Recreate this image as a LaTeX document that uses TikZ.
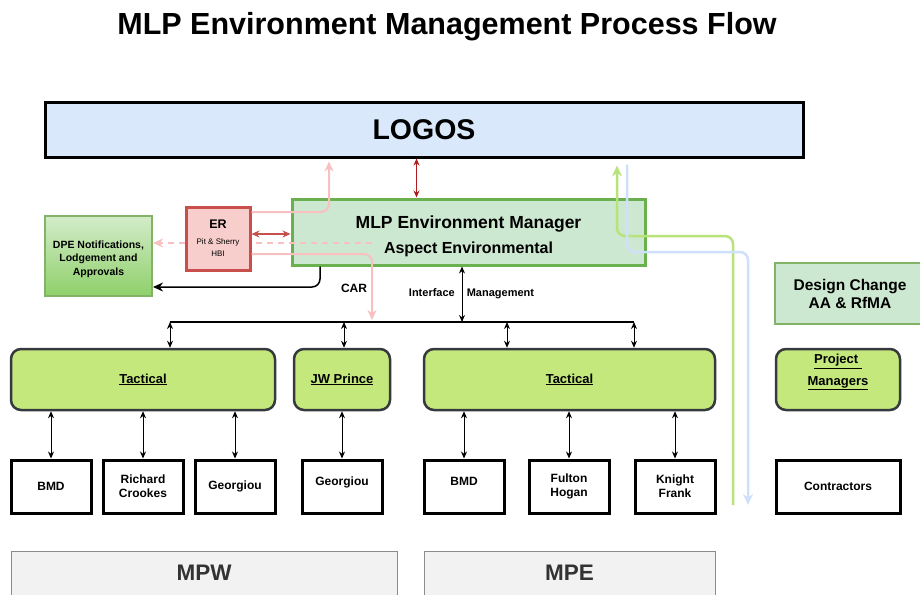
\documentclass[tikz,border=0pt]{standalone}
\usepackage{fontspec}
\usepackage{graphicx}
\setmainfont{Liberation Sans}
\usetikzlibrary{arrows.meta,calc}
\definecolor{logosblue}{HTML}{DAE8FC}
\definecolor{envfill}{HTML}{CDE8D0}
\definecolor{envgreen}{HTML}{6AB04E}
\definecolor{erfill}{HTML}{F8CECC}
\definecolor{erred}{HTML}{C94F4C}
\definecolor{tactfill}{HTML}{C5E87C}
\definecolor{tactborder}{HTML}{36393D}
\definecolor{dpetop}{HTML}{D3ECC9}
\definecolor{dpebot}{HTML}{8FD06A}
\definecolor{dpeborder}{HTML}{82B366}
\definecolor{pinkline}{HTML}{F8C0C0}
\definecolor{darkred}{HTML}{B01C1C}
\definecolor{limeline}{HTML}{B8E27A}
\definecolor{blueline}{HTML}{CFE0FA}
\definecolor{orgfill}{HTML}{F2F2F2}
\definecolor{orgborder}{HTML}{8C8C8C}
\definecolor{orgtext}{HTML}{333333}
\begin{document}
\begin{tikzpicture}[x=1pt,y=-1pt,
  logosbox/.style={draw=black, line width=3pt, fill=logosblue, inner sep=0pt},
  envbox/.style={draw=envgreen, line width=3pt, fill=envfill, inner sep=0pt, align=center},
  erbox/.style={draw=erred, line width=3pt, fill=erfill, inner sep=0pt, align=center},
  dpebox/.style={draw=dpeborder, line width=2pt, top color=dpetop, bottom color=dpebot, inner sep=0pt, align=center, font=\fontsize{10.5}{13}\selectfont\bfseries},
  dcbox/.style={draw=dpeborder, line width=2pt, fill=envfill, inner sep=0pt, align=center, font=\fontsize{15.5}{18}\selectfont\bfseries},
  tactbox/.style={draw=tactborder, line width=2.5pt, fill=tactfill, rounded corners=10pt, minimum height=61pt, inner sep=0pt, align=center, font=\fontsize{13}{20}\selectfont\bfseries},
  leafbox/.style={draw=black, line width=3pt, fill=white, minimum width=80pt, minimum height=53pt, inner sep=0pt, align=center, font=\fontsize{12}{14}\selectfont\bfseries},
  orgbox/.style={draw=orgborder, line width=0.8pt, fill=orgfill, minimum height=44pt, inner sep=0pt, text=orgtext, font=\fontsize{22.5}{25}\selectfont\bfseries},
  dbl/.style={{Stealth[length=7pt,width=6pt]}-{Stealth[length=7pt,width=6pt]}, line width=1pt},
  pinkarrow/.style={draw=pinkline, line width=2pt, -{Stealth[length=10pt,width=9pt]}},
]
\useasboundingbox (0,0) rectangle (920,594);

% title
\node (title) at (447,27) {\fontsize{30.5}{34}\selectfont\bfseries MLP Environment Management Process Flow};

% main boxes
\node[logosbox, minimum width=758pt, minimum height=55pt] (logos) at (424,129.5) {\fontsize{28.5}{32}\selectfont\bfseries LOGOS};
\node[envbox, minimum width=353pt, minimum height=66pt] (mlp) at (468.5,232)
  {\raisebox{0pt}[\dimexpr\height+8pt\relax]{\shortstack{\fontsize{17.5}{20}\selectfont\bfseries MLP Environment Manager\\[7pt]\fontsize{16}{18}\selectfont\bfseries Aspect Environmental}}};
\node[dpebox, minimum width=107pt, minimum height=80pt] (dpe) at (98.5,256)
  {\raisebox{0pt}[\dimexpr\height+6pt\relax]{\shortstack{DPE Notifications,\\[1pt]Lodgement and\\[1pt]Approvals}}};
\node[dcbox, minimum width=150pt, minimum height=61pt] (dc) at (850,293.5)
  {Design Change\\AA \& RfMA};

% tactical level
\node[tactbox, minimum width=264pt] (tacL) at (143,379.5) {\underline{Tactical}};
\node[tactbox, minimum width=96pt] (jw) at (342,379.5) {\underline{JW Prince}};
\node[tactbox, minimum width=291pt] (tacR) at (569.5,379.5) {\underline{Tactical}};
\node[tactbox, minimum width=124pt] (pm) at (838,379.5)
  {\raisebox{19pt}{\shortstack{\underline{Project\ }\\[5pt]\underline{Managers}}}};

% leaf level
\node[leafbox] (bmdA) at (51,486.5) {BMD};
\node[leafbox] (rc) at (143,486.5) {Richard\\Crookes};
\node[leafbox] (geoA) at (235,486.5) {Georgiou};
\node[leafbox] (geoB) at (342,486.5) {\raisebox{11pt}{Georgiou}};
\node[leafbox] (bmdB) at (464,486.5) {\raisebox{11pt}{BMD}};
\node[leafbox] (fh) at (569,486.5) {Fulton\\Hogan};
\node[leafbox] (kf) at (675,486.5) {Knight\\Frank};
\node[leafbox, minimum width=124pt] (con) at (838,486.5) {Contractors};

% organisations
\node[orgbox, minimum width=386pt] (mpw) at (204,573) {MPW};
\node[orgbox, minimum width=291pt] (mpe) at (569.5,573) {MPE};

% helper coordinates
\coordinate (busL) at (170,322);
\coordinate (busM) at (507,322);
\coordinate (busR) at (634,322);
\coordinate (dashstart) at (372,243);
\coordinate (g1) at (617,236);
\coordinate (gEnd) at (733,505);
\coordinate (b1) at (627,252);
\coordinate (bEnd) at (748,505);

% LOGOS <-> MLP
\draw[darkred, line width=1.2pt, {Stealth[length=7pt,width=6pt]}-{Stealth[length=7pt,width=6pt]}]
  ([xshift=-7.5pt]logos.south) -- ([xshift=-7.5pt]logos.south |- mlp.north);

% pink dashed to DPE (behind ER)
\draw[pinkline, line width=2pt, dash pattern=on 6pt off 5pt, -{Stealth[length=10pt,width=9pt]}]
  (dashstart) -- (dashstart -| dpe.east);

% ER box
\node[erbox, minimum width=64pt, minimum height=63pt] (er) at (218,238.5)
  {\fontsize{12.5}{14}\selectfont\bfseries ER\\[4pt]\fontsize{8}{9.5}\selectfont Pit \& Sherry\\\fontsize{8}{9.5}\selectfont HBI};

% ER <-> MLP
\draw[erred, line width=1.5pt, {Stealth[length=8pt,width=7pt]}-{Stealth[length=8pt,width=7pt]}]
  ([yshift=4.5pt]er.east) -- ([yshift=4.5pt]er.east -| mlp.west);

% pink ER -> LOGOS
\draw[pinkarrow, rounded corners=8pt, shorten >=3pt]
  ([yshift=26.5pt]er.east) -| ([xshift=-95pt]logos.south);
% pink ER -> bus
\draw[pinkarrow, rounded corners=8pt]
  ([yshift=-15.5pt]er.east) -| ([yshift=2pt]busL -| dashstart);

% MLP -> DPE (CAR)
\draw[black, line width=1.5pt, rounded corners=8pt, -{Stealth[length=10pt,width=9pt]}]
  ([xshift=-148.5pt]mlp.south) |- ([yshift=-31pt]dpe.east);
\node[font=\fontsize{12}{14}\selectfont\bfseries] (car) at (354,288) {CAR};

% MLP <-> bus
\draw[dbl] ([xshift=-6.5pt]mlp.south) -- ([xshift=-6.5pt]mlp.south |- busL);
\node[inner sep=0pt, font=\fontsize{11}{13}\selectfont\bfseries] (im) at (471.5,294) {Interface\hspace{12pt}Management};

% bus
\draw[line width=1.2pt] (busL) -- (busR);
\draw[dbl] (busL) -- (busL |- tacL.north);
\draw[dbl] ([xshift=2pt]busL -| jw.north) -- ([xshift=2pt]jw.north);
\draw[dbl] (busM) -- (busM |- tacR.north);
\draw[dbl] (busR) -- (busR |- tacR.north);

% tactical -> leaves
\draw[dbl] (tacL.south -| bmdA.north) -- (bmdA.north);
\draw[dbl] (tacL.south -| rc.north) -- (rc.north);
\draw[dbl] (tacL.south -| geoA.north) -- (geoA.north);
\draw[dbl] (jw.south -| geoB.north) -- (geoB.north);
\draw[dbl] (tacR.south -| bmdB.north) -- (bmdB.north);
\draw[dbl] (tacR.south -| fh.north) -- (fh.north);
\draw[dbl] (tacR.south -| kf.north) -- (kf.north);

% green and blue lines
\draw[limeline, line width=2.5pt, rounded corners=8pt, -{Stealth[length=11pt,width=10pt]}, shorten >=7pt]
  (gEnd) |- (g1) -- (g1 |- logos.south);
\draw[blueline, line width=2.5pt, rounded corners=8pt, -{Stealth[length=11pt,width=10pt]}, shorten <=6pt]
  (b1 |- logos.south) -- (b1) -| (bEnd);
\end{tikzpicture}
\end{document}
